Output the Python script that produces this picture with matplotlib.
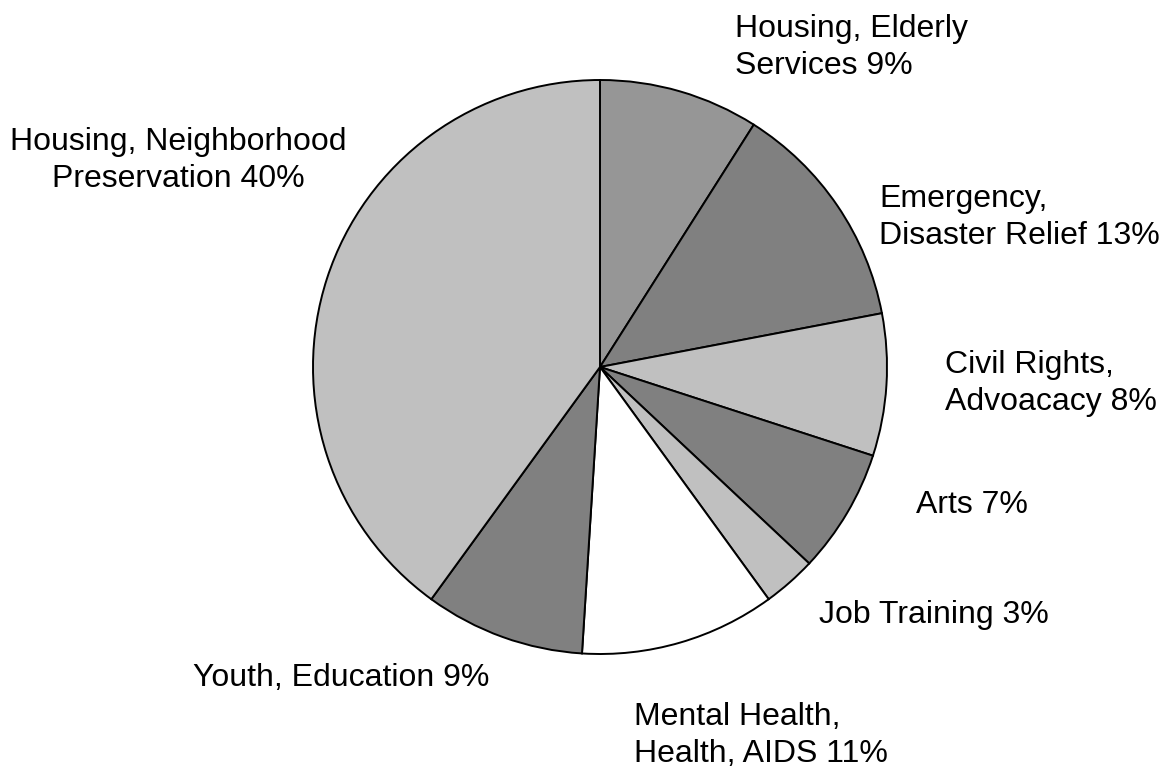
import matplotlib
matplotlib.use("Agg")
import matplotlib.pyplot as plt

plt.rcParams['font.family'] = ['Liberation Sans', 'DejaVu Sans']

# Share of grants by program area, clockwise from 12 o'clock
categories = [
    ["Housing, Elderly", "Services"],
    ["Emergency,", "Disaster Relief"],
    ["Civil Rights,", "Advoacacy"],
    ["Arts"],
    ["Job Training"],
    ["Mental Health,", "Health, AIDS"],
    ["Youth, Education"],
    ["Housing, Neighborhood", "Preservation"],
]
shares = [9, 13, 8, 7, 3, 11, 9, 40]
colors = ["#969696", "#808080", "#c0c0c0", "#808080",
          "#c0c0c0", "#ffffff", "#808080", "#c0c0c0"]

W, H = 1163, 770
fig = plt.figure(figsize=(W / 100, H / 100), dpi=100)
ax = fig.add_axes([0, 0, 1, 1])

ax.pie(shares, colors=colors, startangle=90, counterclock=False,
       center=(600, H - 367), radius=287, frame=True,
       wedgeprops=dict(edgecolor='black', linewidth=1.4))
ax.set_xlim(0, W)
ax.set_ylim(0, H)
ax.set_aspect('equal')
ax.axis('off')

# label placement: (x, first baseline in pixels from top, horizontal alignment)
label_pos = [
    (735, 37, 'left'),
    (879, 207, 'left'),
    (945, 373, 'left'),
    (916, 513, 'left'),
    (819, 623, 'left'),
    (634, 725, 'left'),
    (193, 686, 'left'),
    (178, 150, 'center'),
]
line_gap = 37

for lines, val, (x, y0, ha) in zip(categories, shares, label_pos):
    text_lines = list(lines[:-1]) + [f"{lines[-1]} {val}%"]
    for i, t in enumerate(text_lines):
        ax.text(x, H - (y0 + i * line_gap), t, ha=ha, va='baseline',
                fontsize=23, color='black')

fig.savefig("out.png", dpi=100)
